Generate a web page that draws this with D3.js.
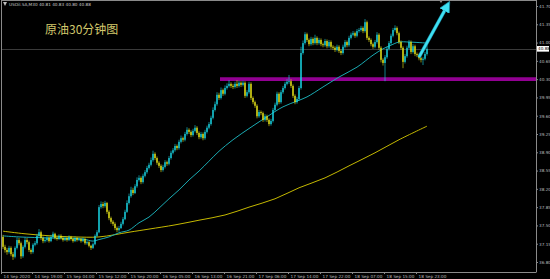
<!DOCTYPE html>
<html><head><meta charset="utf-8">
<script src="https://cdn.jsdelivr.net/npm/d3@7"></script>
<style>html,body{margin:0;padding:0;background:#000;overflow:hidden}</style>
</head><body><svg id="c" width="550" height="279"></svg>
<script>
const firstOpen = 37.28;
const closes = [
37.09,37.03,36.99,37.07,36.95,36.90,37.07,37.22,37.16,36.91,
37.09,37.22,37.18,37.03,36.99,37.13,37.16,37.30,37.37,37.26,
37.20,37.22,37.26,37.20,37.28,37.34,37.26,37.24,37.30,37.26,
37.22,37.26,37.22,37.28,37.24,37.20,37.26,37.22,37.24,37.20,
37.24,37.16,37.18,37.11,37.07,37.14,37.30,37.37,37.85,37.91,
37.87,37.93,37.76,37.64,37.57,37.53,37.45,37.41,37.45,37.53,
37.62,37.76,37.93,38.06,38.18,38.12,38.25,38.37,38.41,38.33,
38.45,38.52,38.60,38.66,38.75,38.87,38.79,38.70,38.64,38.56,
38.62,38.71,38.68,38.79,38.89,38.94,39.02,38.98,39.10,39.17,
39.14,39.25,39.33,39.29,39.23,39.31,39.37,39.27,39.19,39.25,
39.17,39.29,39.37,39.44,39.56,39.71,39.82,40.00,39.94,40.09,
40.02,40.13,40.17,40.21,40.17,40.15,40.21,40.17,40.23,40.19,
40.23,39.98,40.05,40.21,39.94,39.86,39.79,39.59,39.67,39.65,
39.52,39.59,39.52,39.44,39.50,39.71,39.81,40.02,39.86,40.05,
40.13,40.21,40.25,40.26,40.17,39.98,39.86,39.92,40.13,40.80,
40.99,41.16,41.05,40.97,41.07,40.99,41.09,40.99,41.05,40.97,
40.95,41.03,40.93,41.01,40.92,40.90,40.86,40.92,40.84,40.80,
40.92,41.01,40.95,41.09,41.15,41.18,41.13,41.22,41.24,41.28,
41.22,41.39,41.09,41.05,40.97,40.92,41.01,41.15,40.90,40.67,
40.61,40.72,40.88,40.99,41.13,41.24,41.28,41.18,41.01,40.90,
40.63,40.74,40.90,41.01,40.82,40.93,40.78,40.76,40.70,40.67,
40.69,40.78,40.88];
const highs = [
37.32,37.13,37.07,37.11,37.10,36.99,37.10,37.27,37.26,37.19,
37.12,37.27,37.26,37.21,37.06,37.16,37.20,37.34,37.43,37.40,
37.29,37.26,37.30,37.29,37.32,37.38,37.36,37.29,37.33,37.33,
37.29,37.29,37.28,37.31,37.30,37.27,37.29,37.28,37.27,37.26,
37.27,37.26,37.21,37.20,37.13,37.17,37.33,37.41,37.89,37.96,
37.95,37.97,37.95,37.79,37.67,37.60,37.56,37.48,37.49,37.57,
37.66,37.80,37.98,38.11,38.24,38.22,38.29,38.42,38.46,38.44,
38.49,38.56,38.64,38.70,38.80,38.93,38.90,38.82,38.73,38.67,
38.66,38.75,38.74,38.83,38.93,38.98,39.06,39.05,39.14,39.22,
39.20,39.29,39.38,39.36,39.32,39.35,39.42,39.40,39.30,39.29,
39.28,39.33,39.41,39.48,39.60,39.76,39.87,40.05,40.04,40.14,
40.12,40.18,40.22,40.28,40.24,40.21,40.25,40.28,40.27,40.26,
40.27,40.26,40.09,40.25,40.24,39.97,39.89,39.82,39.71,39.70,
39.68,39.63,39.62,39.55,39.54,39.75,39.85,40.06,40.05,40.09,
40.17,40.25,40.30,40.38,40.30,40.20,40.01,39.96,40.17,40.92,
41.04,41.20,41.19,41.08,41.11,41.10,41.15,41.12,41.09,41.08,
41.00,41.07,41.06,41.05,41.04,40.95,40.93,40.96,40.95,40.87,
40.96,41.05,41.04,41.13,41.19,41.22,41.21,41.26,41.28,41.32,
41.31,41.45,41.42,41.12,41.08,41.00,41.05,41.20,41.18,40.93,
40.70,40.76,40.92,41.03,41.17,41.28,41.33,41.31,41.21,41.04,
40.93,40.78,40.94,41.05,41.04,40.97,40.96,40.81,40.79,40.73,
40.72,40.82,40.95];
const lows = [
37.05,36.98,36.94,36.96,36.91,36.84,36.87,37.04,37.12,36.86,
36.88,37.06,37.14,36.99,36.95,36.96,37.10,37.13,37.27,37.22,
37.16,37.17,37.19,37.17,37.18,37.25,37.23,37.21,37.22,37.23,
37.19,37.20,37.19,37.20,37.21,37.17,37.18,37.19,37.20,37.17,
37.18,37.13,37.13,37.08,37.03,37.05,37.12,37.28,37.35,37.82,
37.83,37.84,37.72,37.60,37.53,37.49,37.41,37.37,37.38,37.43,
37.50,37.60,37.74,37.90,38.03,38.08,38.10,38.22,38.34,38.29,
38.30,38.42,38.49,38.57,38.63,38.72,38.75,38.66,38.60,38.52,
38.53,38.59,38.64,38.65,38.76,38.86,38.91,38.94,38.95,39.07,
39.10,39.11,39.22,39.25,39.19,39.20,39.28,39.23,39.15,39.16,
39.13,39.14,39.26,39.34,39.41,39.53,39.68,39.79,39.90,39.91,
39.98,39.99,40.10,40.14,40.13,40.11,40.12,40.13,40.14,40.15,
40.16,39.94,39.95,40.02,39.90,39.82,39.75,39.55,39.56,39.61,
39.48,39.49,39.48,39.40,39.41,39.47,39.68,39.78,39.82,39.83,
40.02,40.10,40.18,40.21,40.13,39.94,39.82,39.83,39.89,40.10,
40.77,40.96,41.01,40.93,40.94,40.95,40.96,40.95,40.96,40.93,
40.91,40.92,40.89,40.90,40.88,40.86,40.82,40.83,40.80,40.76,
40.77,40.89,40.91,40.92,41.06,41.12,41.09,41.10,41.19,41.21,
41.18,41.19,41.05,41.01,40.93,40.88,40.89,40.98,40.86,40.62,
40.56,40.26,40.69,40.85,40.96,41.10,41.21,41.14,40.97,40.86,
40.51,40.60,40.71,40.87,40.78,40.79,40.74,40.72,40.66,40.62,
40.57,40.66,40.75];
// moving averages: [bar index, price]
const fastMA = [[0,37.30],[8,37.28],[24,37.26],[40,37.24],[45,37.20],[48,37.23],[53,37.28],[58,37.36],[63,37.41],[68,37.55],[73,37.66],[78,37.83],[83,38.01],[88,38.18],[93,38.37],[98,38.54],[103,38.73],[108,38.92],[115,39.14],[124,39.38],[132,39.58],[140,39.77],[147,39.88],[152,39.96],[160,40.15],[168,40.34],[177,40.53],[185,40.76],[190,40.88],[194,40.95],[198,41.01],[203,41.01],[212,40.99]];
const slowMA = [[0,37.39],[11,37.34],[24,37.30],[36,37.28],[48,37.28],[63,37.37],[73,37.43],[86,37.51],[98,37.60],[111,37.70],[123,37.85],[136,38.01],[148,38.22],[161,38.41],[173,38.64],[186,38.89],[198,39.14],[212,39.40]];
const priceTicks = [41.70,41.35,41.00,40.65,40.30,39.95,39.60,39.25,38.90,38.55,38.20,37.85,37.50,37.15,36.80];
const timeLabels = ["14 Sep 2020","14 Sep 19:00","15 Sep 04:00","15 Sep 12:00","15 Sep 20:00","16 Sep 05:00","16 Sep 13:00","16 Sep 21:00","17 Sep 06:00","17 Sep 14:00","17 Sep 22:00","18 Sep 07:00","18 Sep 15:00","18 Sep 23:00"];
const timeLabelIdx = [-0.5,15,31,47,63,79,95,111,127,143,159,175,191,207];
const header = "USOil.SA,M30  40.81 40.83 40.80 40.88";
const title = "原油30分钟图";
const currentPrice = 40.88;
const supportLevel = 40.30, supportFrom = 108.5;
const arrowFrom = [208, 40.72], arrowTo = [221.5, 41.66];

const W = 550, H = 279, axisX = 536, axisY = 272;
const svg = d3.select("#c");
svg.append("rect").attr("width",W).attr("height",H).attr("fill","#000");
const x = d3.scaleLinear().domain([0,212]).range([3,427]);
const y = d3.scaleLinear().domain([36.80,41.70]).range([262,6]);

// frame
svg.append("line").attr("x1",1.5).attr("x2",1.5).attr("y1",0).attr("y2",axisY).attr("stroke","#8a8a8a");
svg.append("line").attr("x1",1).attr("x2",axisX).attr("y1",0.5).attr("y2",0.5).attr("stroke","#8a8a8a");

// current price line
svg.append("line").attr("x1",2).attr("x2",axisX).attr("y1",Math.round(y(currentPrice))+0.5).attr("y2",Math.round(y(currentPrice))+0.5).attr("stroke","#3a3a3a");

// support band
svg.append("line").attr("x1",x(supportFrom)).attr("x2",axisX).attr("y1",y(supportLevel)).attr("y2",y(supportLevel)).attr("stroke","#920092").attr("stroke-width",3.6);

// MAs
const line = d3.line().x(d=>x(d[0])).y(d=>y(d[1])).curve(d3.curveCatmullRom);
svg.append("path").attr("d",line(slowMA)).attr("fill","none").attr("stroke","#c4b800").attr("stroke-width",1);
svg.append("path").attr("d",line(fastMA)).attr("fill","none").attr("stroke","#1aaab2").attr("stroke-width",1);

// candles
const candles = closes.map((c,i)=>({i, o: i===0?firstOpen:closes[i-1], c, h: highs[i], l: lows[i]}));
const up = "#1ad8e6", dn = "#ece81a";
const g = svg.append("g");
g.selectAll("line.w").data(candles).join("line")
 .attr("x1",d=>x(d.i)).attr("x2",d=>x(d.i)).attr("y1",d=>y(d.h)).attr("y2",d=>y(d.l))
 .attr("stroke",d=>d.c>=d.o?up:dn).attr("stroke-width",0.6);
g.selectAll("rect.b").data(candles).join("rect")
 .attr("x",d=>x(d.i)-0.65).attr("width",1.3)
 .attr("y",d=>y(Math.max(d.o,d.c))).attr("height",d=>Math.max(0.8,Math.abs(y(d.o)-y(d.c))))
 .attr("fill",d=>d.c>=d.o?up:dn);

// arrow
const defs = svg.append("defs");
defs.append("marker").attr("id","ah").attr("viewBox","0 0 10 10").attr("refX",3).attr("refY",5)
 .attr("markerWidth",11).attr("markerHeight",11).attr("markerUnits","userSpaceOnUse").attr("orient","auto")
 .append("path").attr("d","M0,0 L10,5 L0,10 z").attr("fill","#3ee0f2").attr("stroke","#1c8fa8").attr("stroke-width",0.6);
svg.append("line").attr("x1",x(arrowFrom[0])).attr("y1",y(arrowFrom[1])).attr("x2",x(arrowTo[0])).attr("y2",y(arrowTo[1]))
 .attr("stroke","#1c8fa8").attr("stroke-width",3.6);
svg.append("line").attr("x1",x(arrowFrom[0])).attr("y1",y(arrowFrom[1])).attr("x2",x(arrowTo[0])).attr("y2",y(arrowTo[1]))
 .attr("stroke","#3ee0f2").attr("stroke-width",2.4).attr("marker-end","url(#ah)");

// shift marker
svg.append("path").attr("d","M439,0 L443,0 L441,3 z").attr("fill","#8a8a8a");

// right axis
const ya = svg.append("g").attr("transform",`translate(${axisX},0)`)
 .call(d3.axisRight(y).tickValues(priceTicks).tickSize(2).tickSizeOuter(0).tickPadding(1).tickFormat(d3.format(".2f")));
ya.select(".domain").attr("d",`M0.5,0V${axisY}`).attr("stroke","#8a8a8a");
ya.selectAll(".tick line").attr("stroke","#8a8a8a");
ya.selectAll("text").attr("fill","#bdbdbd").attr("font-size",4.2).attr("font-family","DejaVu Sans");

// current price box
const cy = y(currentPrice);
svg.append("rect").attr("x",axisX+1).attr("y",cy-2.8).attr("width",12).attr("height",5.6).attr("fill","#fff");
svg.append("text").attr("x",axisX+2).attr("y",cy+1.5).text(d3.format(".2f")(currentPrice))
 .attr("font-size",4.2).attr("font-family","DejaVu Sans").attr("fill","#000");

// bottom axis
const xa = svg.append("g").attr("transform",`translate(0,${axisY})`)
 .call(d3.axisBottom(x).tickValues(timeLabelIdx).tickSize(2).tickSizeOuter(0).tickFormat((d,k)=>timeLabels[k]));
xa.select(".domain").attr("d",`M1,0.5H${axisX+0.5}`).attr("stroke","#8a8a8a");
xa.selectAll(".tick line").attr("stroke","#8a8a8a").attr("transform","translate(-1,0)");
xa.selectAll("text").attr("fill","#bdbdbd").attr("font-size",4.2).attr("font-family","DejaVu Sans")
 .attr("text-anchor","start").attr("dx",1).attr("y",3);

// header & title
svg.append("path").attr("d","M3,2 L7,2 L5,6 z").attr("fill","#bdbdbd");
svg.append("text").attr("x",9).attr("y",6).text(header).attr("font-size",4.2).attr("font-family","DejaVu Sans").attr("fill","#c8c8c8");
svg.append("text").attr("x",45).attr("y",34).text(title).attr("font-size",12).attr("font-family","Noto Sans CJK SC").attr("fill","#d2c86c");
</script></body></html>
